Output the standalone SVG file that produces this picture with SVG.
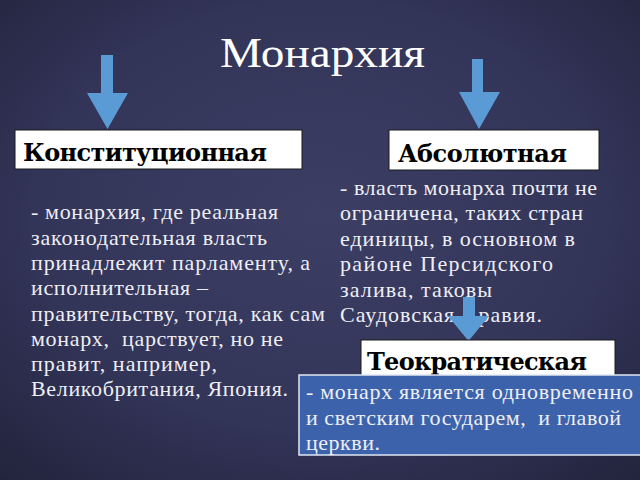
<svg xmlns="http://www.w3.org/2000/svg" width="640" height="480" viewBox="0 0 640 480">
  <defs>
    <radialGradient id="bg" cx="50%" cy="45%" r="75%">
      <stop offset="0" stop-color="#3c3e64"/>
      <stop offset="0.6" stop-color="#323458"/>
      <stop offset="1" stop-color="#22233b"/>
    </radialGradient>
    <style>
      .title { font-family: "Liberation Serif", "DejaVu Serif", serif; font-size: 42px; fill: #ffffff; }
      .head { font-family: "DejaVu Serif", "Liberation Serif", serif; font-size: 24px; font-weight: bold; fill: #000000; }
      .body { font-family: "Liberation Serif", "DejaVu Serif", serif; font-size: 22px; fill: #eeeef4; white-space: pre; }
      .hbox { fill: #ffffff; stroke: #1a1a1a; stroke-width: 1; }
      .arrow { fill: #5b9bd5; }
      .note { fill: #3b62aa; stroke: #dfe6f2; stroke-width: 1.5; }
    </style>
  </defs>
  <rect x="0" y="0" width="640" height="480" fill="url(#bg)"/>

  <g id="title">
    <text class="title" x="220" y="67" textLength="205" lengthAdjust="spacingAndGlyphs">Монархия</text>
  </g>

  <g id="konst-text">
    <text class="body" x="31" y="219" textLength="247">- монархия, где реальная</text>
    <text class="body" x="31" y="245" textLength="236">законодательная власть</text>
    <text class="body" x="31" y="270" textLength="279">принадлежит парламенту, а</text>
    <text class="body" x="31" y="295" textLength="177">исполнительная –</text>
    <text class="body" x="31" y="321" textLength="294">правительству, тогда, как сам</text>
    <text class="body" x="31" y="346" textLength="252">монарх,  царствует, но не</text>
    <text class="body" x="31" y="371" textLength="186">правит, например,</text>
    <text class="body" x="31" y="396" textLength="257">Великобритания, Япония.</text>
  </g>

  <g id="abs-text">
    <text class="body" x="340" y="195" textLength="257">- власть монарха почти не</text>
    <text class="body" x="340" y="220" textLength="243">ограничена, таких стран</text>
    <text class="body" x="340" y="246" textLength="235">единицы, в основном в</text>
    <text class="body" x="340" y="271" textLength="213">районе Персидского</text>
    <text class="body" x="340" y="297" textLength="152">залива, таковы</text>
    <text class="body" x="340" y="322" textLength="202">Саудовская Аравия.</text>
  </g>

  <g id="connectors">
    <path class="arrow" d="M101,55 H113 V93 H128 L107.5,129 L87,93 H101 Z"/>
    <path class="arrow" d="M472,59 H483 V92 H500 L479,129 L459,92 H472 Z"/>
    <path class="arrow" d="M463,297 H475 V316 H489 L468.5,341 L448,316 H463 Z"/>
  </g>

  <g id="konst">
    <rect class="hbox" x="15" y="130" width="287" height="39"/>
    <text class="head" x="23" y="161" textLength="244">Конституционная</text>
  </g>

  <g id="abs">
    <rect class="hbox" x="389" y="130" width="210" height="40"/>
    <text class="head" x="398" y="162" textLength="169">Абсолютная</text>
  </g>

  <g id="teo">
    <rect class="hbox" x="361" y="340" width="254" height="42"/>
    <text class="head" x="367" y="370" textLength="220">Теократическая</text>
  </g>

  <g id="teo-text">
    <rect class="note" x="299" y="375" width="345" height="80"/>
    <text class="body" x="306" y="399" textLength="327">- монарх является одновременно</text>
    <text class="body" x="306" y="425" textLength="315">и светским государем,  и главой</text>
    <text class="body" x="306" y="450" textLength="74">церкви.</text>
  </g>
</svg>
